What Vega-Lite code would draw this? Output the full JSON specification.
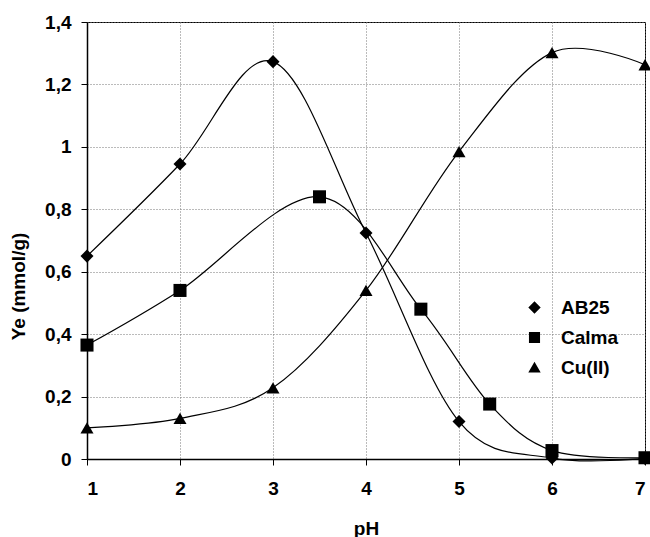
{
  "$schema": "https://vega.github.io/schema/vega-lite/v6.json",
  "width": 558,
  "height": 437,
  "autosize": {"type": "none"},
  "padding": {"left": 87, "top": 22, "right": 5, "bottom": 78},
  "background": "white",
  "config": {
    "font": "Liberation Sans",
    "view": {"stroke": "black", "strokeWidth": 1},
    "axis": {
      "labelFont": "Liberation Sans",
      "labelFontSize": 19,
      "labelFontWeight": "bold",
      "labelColor": "black",
      "titleFont": "Liberation Sans",
      "titleFontSize": 19,
      "titleFontWeight": "bold",
      "titleColor": "black",
      "domainColor": "black",
      "domainWidth": 1.5,
      "tickColor": "black",
      "tickSize": 6,
      "gridColor": "#777",
      "gridDash": [1, 2],
      "gridWidth": 1
    }
  },
  "data": {
    "values": [
      {"pH": 1, "Ye": 0.65, "serie": "AB25"},
      {"pH": 2, "Ye": 0.945, "serie": "AB25"},
      {"pH": 3, "Ye": 1.273, "serie": "AB25"},
      {"pH": 4, "Ye": 0.724, "serie": "AB25"},
      {"pH": 5, "Ye": 0.12, "serie": "AB25"},
      {"pH": 6, "Ye": 0.003, "serie": "AB25"},
      {"pH": 7, "Ye": 0.002, "serie": "AB25"},
      {"pH": 1, "Ye": 0.365, "serie": "Calma"},
      {"pH": 2, "Ye": 0.54, "serie": "Calma"},
      {"pH": 3.5, "Ye": 0.84, "serie": "Calma"},
      {"pH": 4.59, "Ye": 0.48, "serie": "Calma"},
      {"pH": 5.33, "Ye": 0.176, "serie": "Calma"},
      {"pH": 6, "Ye": 0.027, "serie": "Calma"},
      {"pH": 7, "Ye": 0.004, "serie": "Calma"},
      {"pH": 1, "Ye": 0.1, "serie": "Cu(II)"},
      {"pH": 2, "Ye": 0.13, "serie": "Cu(II)"},
      {"pH": 3, "Ye": 0.228, "serie": "Cu(II)"},
      {"pH": 4, "Ye": 0.54, "serie": "Cu(II)"},
      {"pH": 5, "Ye": 0.985, "serie": "Cu(II)"},
      {"pH": 6, "Ye": 1.302, "serie": "Cu(II)"},
      {"pH": 7, "Ye": 1.263, "serie": "Cu(II)"}
    ]
  },
  "encoding": {
    "x": {
      "field": "pH",
      "type": "quantitative",
      "scale": {"domain": [1, 7], "nice": false, "zero": false},
      "axis": {
        "title": "pH",
        "values": [1, 2, 3, 4, 5, 6, 7],
        "format": "d",
        "labelPadding": 14,
        "titleY": 60,
        "titleBaseline": "top"
      }
    },
    "y": {
      "field": "Ye",
      "type": "quantitative",
      "scale": {"domain": [0, 1.4], "nice": false},
      "axis": {
        "title": "Ye (mmol/g)",
        "values": [0, 0.2, 0.4, 0.6, 0.8, 1, 1.2, 1.4],
        "labelExpr": "replace(format(datum.value, '.1~f'), '.', ',')",
        "labelPadding": 10,
        "titleX": -59,
        "titleY": 264,
        "titleBaseline": "bottom",
        "titleAngle": 270
      }
    }
  },
  "layer": [
    {
      "mark": {"type": "line", "interpolate": "cardinal", "color": "black", "strokeWidth": 1.2},
      "encoding": {"detail": {"field": "serie"}}
    },
    {
      "mark": {"type": "point", "filled": true, "color": "black", "size": 170, "opacity": 1},
      "encoding": {
        "shape": {
          "field": "serie",
          "type": "nominal",
          "scale": {"domain": ["AB25", "Calma", "Cu(II)"], "range": ["diamond", "square", "triangle-up"]},
          "legend": null
        }
      }
    },
    {
      "mark": {"type": "point", "filled": false, "color": "black", "fill": "black", "stroke": "black", "strokeWidth": 1.6, "size": 0, "opacity": 1},
      "encoding": {
        "shape": {
          "field": "serie",
          "type": "nominal",
          "scale": {
            "domain": ["AB25", "Calma", "Cu(II)"],
            "range": [
              "M-3,0H3M0,-0.95L0.95,0L0,0.95L-0.95,0ZM0,-0.65L0.65,0L0,0.65L-0.65,0ZM0,-0.35L0.35,0L0,0.35L-0.35,0ZM0,-0.1L0.1,0L0,0.1L-0.1,0Z",
              "M-3,0H3M-0.85,-0.85H0.85V0.85H-0.85ZM-0.55,-0.55H0.55V0.55H-0.55ZM-0.25,-0.25H0.25V0.25H-0.25Z",
              "M-3,0H3M0,-0.9L0.95,0.75L-0.95,0.75ZM0,-0.5L0.6,0.5L-0.6,0.5ZM0,-0.1L0.25,0.3L-0.25,0.3Z"
            ]
          },
          "legend": {
            "title": null,
            "orient": "none",
            "legendX": 438,
            "legendY": 276,
            "padding": 0,
            "symbolSize": 170,
            "symbolFillColor": "black",
            "symbolStrokeColor": "black",
            "symbolStrokeWidth": 1.6,
            "symbolOpacity": 1,
            "labelFont": "Liberation Sans",
            "labelFontSize": 19,
            "labelFontWeight": "bold",
            "labelColor": "black",
            "labelOffset": 17,
            "rowPadding": 10
          }
        }
      }
    }
  ],
  "resolve": {"scale": {"shape": "independent"}}
}
